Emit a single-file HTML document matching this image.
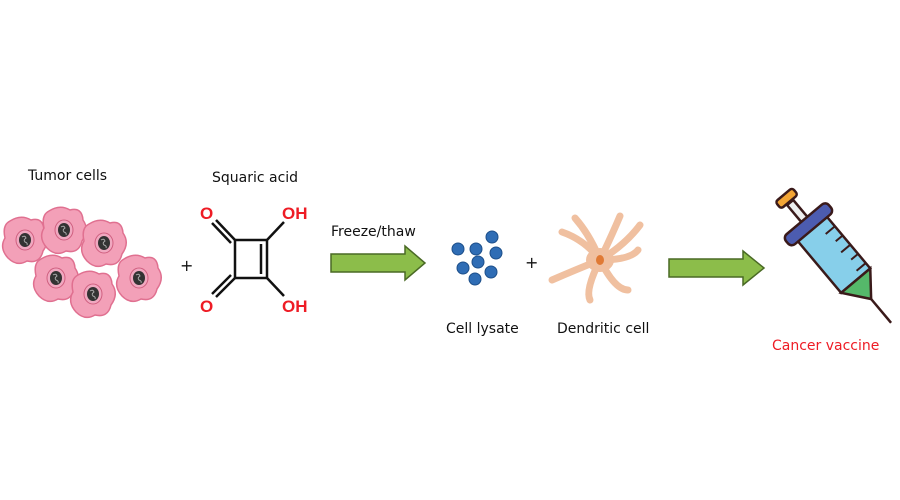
<!DOCTYPE html>
<html><head><style>
body{margin:0;background:#fff}
svg{display:block}
text{font-family:"Comic Sans MS","DejaVu Sans","Liberation Sans",sans-serif}
</style></head><body>
<svg width="900" height="500" viewBox="0 0 900 500" xmlns="http://www.w3.org/2000/svg">
<defs>
<g id="cell">
<path d="M-15,-19 Q-4,-26 6,-20 Q18,-23 19,-10 Q26,0 18,11 Q15,24 2,21 Q-8,27 -17,18 Q-26,8 -20,-2 Q-23,-15 -15,-19Z" fill="#f3a0b8" stroke="#e07090" stroke-width="1.5"/>
<ellipse cx="0" cy="0" rx="9" ry="10" fill="#f0a8c0" stroke="#d06080"/>
<ellipse cx="0" cy="0" rx="6" ry="7" fill="#333"/>
<path d="M-3,-3 q3,-2 4,1 q-3,2 -1,4 q3,1 2,3" stroke="#aaa" fill="none" stroke-width="1"/>
</g>
</defs>
<text x="28" y="180" font-size="14" fill="#111">Tumor cells</text>
<use href="#cell" x="25" y="240"/>
<use href="#cell" x="64" y="230"/>
<use href="#cell" x="104" y="243"/>
<use href="#cell" x="56" y="278"/>
<use href="#cell" x="93" y="294"/>
<use href="#cell" x="139" y="278"/>
<text x="180" y="271" font-size="16" fill="#111">+</text>
<text x="212" y="182" font-size="14" fill="#111">Squaric acid</text>
<g stroke="#111" stroke-width="2.5" fill="none">
<rect x="235" y="240" width="32" height="38"/>
<line x1="261" y1="244" x2="261" y2="274"/>
<line x1="235" y1="240" x2="216" y2="220"/>
<line x1="231" y1="243" x2="212" y2="223"/>
<line x1="267" y1="240" x2="284" y2="222"/>
<line x1="235" y1="278" x2="216" y2="297"/>
<line x1="231" y1="275" x2="212" y2="294"/>
<line x1="267" y1="278" x2="284" y2="296"/>
</g>
<g font-weight="bold" font-size="17" fill="#ee1c25">
<text x="200" y="219" style="font-family:'Liberation Sans'">O</text>
<text x="282" y="219" style="font-family:'Liberation Sans'">OH</text>
<text x="200" y="312" style="font-family:'Liberation Sans'">O</text>
<text x="282" y="312" style="font-family:'Liberation Sans'">OH</text>
</g>
<text x="331" y="236" font-size="14" fill="#111">Freeze/thaw</text>
<path d="M331,254 H405 V246 L425,263 L405,280 V272 H331Z" fill="#8cbd4a" stroke="#4a6a25" stroke-width="1.5"/>
<g fill="#2f6db5" stroke="#1d4f8a">
<circle cx="492" cy="237" r="6"/><circle cx="458" cy="249" r="6"/><circle cx="476" cy="249" r="6"/>
<circle cx="496" cy="253" r="6"/><circle cx="478" cy="262" r="6"/><circle cx="463" cy="268" r="6"/>
<circle cx="491" cy="272" r="6"/><circle cx="475" cy="279" r="6"/>
</g>
<text x="525" y="268" font-size="16" fill="#111">+</text>
<g stroke="#f0c0a0" stroke-width="7" stroke-linecap="round" fill="none">
<path d="M600,260 Q585,240 562,232"/>
<path d="M600,260 Q612,235 620,216"/>
<path d="M600,260 Q625,245 640,225"/>
<path d="M600,260 Q630,260 638,250"/>
<path d="M600,260 Q575,270 552,280"/>
<path d="M600,260 Q585,290 590,300"/>
<path d="M600,260 Q615,290 628,290"/>
<path d="M600,260 Q590,235 575,218"/>
</g>
<ellipse cx="600" cy="260" rx="14" ry="12" fill="#f0c0a0"/>
<ellipse cx="600" cy="260" rx="4" ry="5" fill="#e07a35"/>
<text x="446" y="333" font-size="14" fill="#111">Cell lysate</text>
<text x="557" y="333" font-size="14" fill="#111">Dendritic cell</text>
<path d="M669,259 H743 V251 L764,268 L743,285 V277 H669Z" fill="#8cbd4a" stroke="#4a6a25" stroke-width="1.5"/>
<g transform="translate(830,250) rotate(50)" stroke="#3a1a1a" stroke-width="2.5">
<line x1="62" y1="0" x2="95" y2="0"/>
<rect x="-62" y="-4" width="30" height="8" fill="#eee"/>
<rect x="-72" y="-11" width="9" height="22" rx="3" fill="#f3a535"/>
<rect x="-32" y="-19" width="72" height="38" fill="#87cfea"/>
<path d="M40,-19 L64,0 L40,19Z" fill="#55b86a"/>
<rect x="-40" y="-28" width="13" height="56" rx="5" fill="#4c5cb0"/>
<g stroke-width="2"><line x1="-15" y1="-19" x2="-15" y2="-7"/><line x1="-3" y1="-19" x2="-3" y2="-10"/><line x1="9" y1="-19" x2="9" y2="-7"/><line x1="21" y1="-19" x2="21" y2="-10"/><line x1="33" y1="-19" x2="33" y2="-7"/></g>
</g>
<text x="772" y="350" font-size="14" fill="#ee1c25">Cancer vaccine</text>
</svg>
</body></html>
